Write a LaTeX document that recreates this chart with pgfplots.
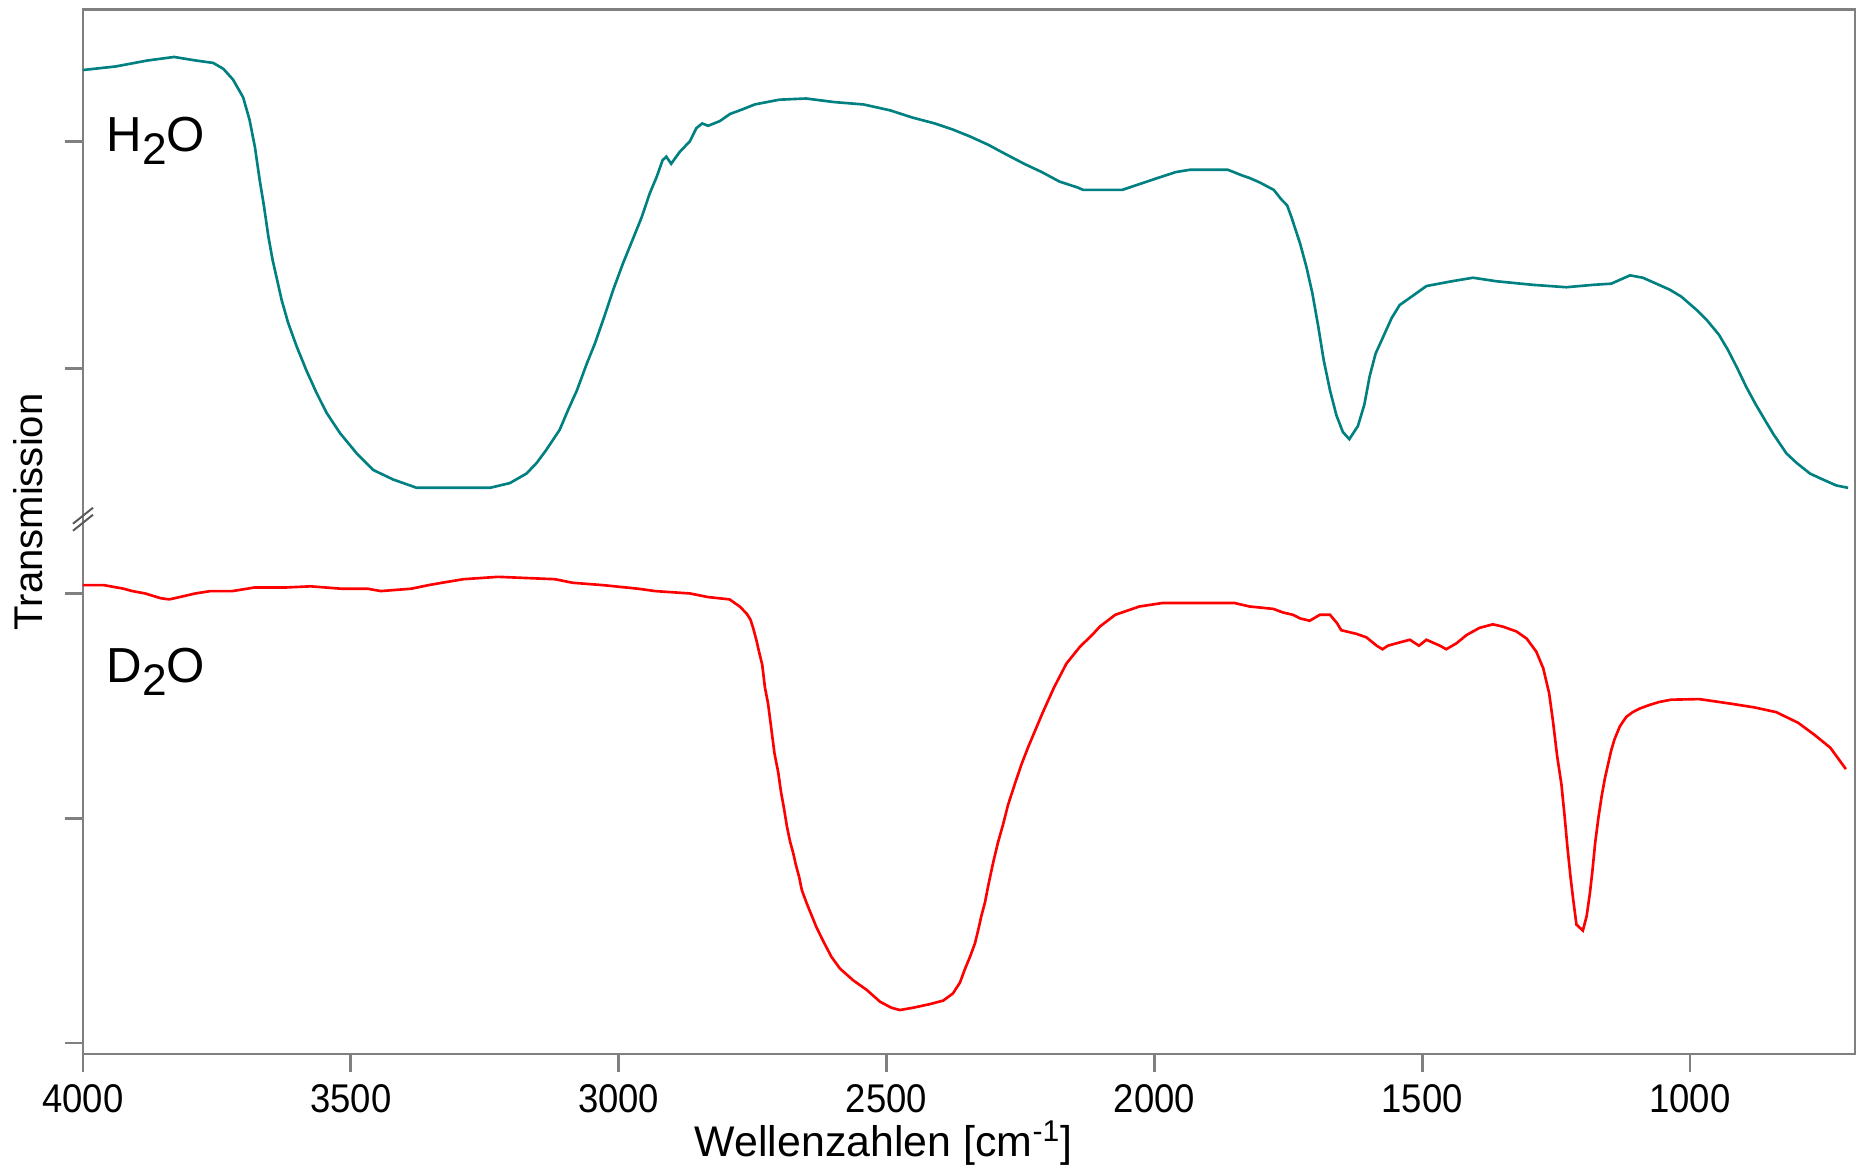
\documentclass[border=0pt]{standalone}
\usepackage{pgfplots}
\pgfplotsset{compat=1.18}
\usepackage{fontspec}
\setmainfont{Liberation Sans}
\newfontfamily\tickfont[FakeStretch=0.91]{Liberation Sans}
\definecolor{h2o}{HTML}{008080}
\definecolor{d2o}{HTML}{FF0000}
\definecolor{axgray}{HTML}{808080}

\begin{document}
\begin{tikzpicture}
\begin{axis}[
    scale only axis,
    width=177.2mm, height=104.45mm,
    xmin=692, xmax=4000, x dir=reverse,
    ymin=0, ymax=880,
    xtick={1000,1500,2000,2500,3000,3500,4000},
    ytick={9.2,198.4,388,577.2,768.5},
    yticklabels={},
    xtick pos=bottom, ytick pos=left,
    tick align=outside,
    major tick length=1.8mm,
    axis line style={draw=axgray, line width=0.8pt},
    tick style={draw=axgray, line width=0.8pt},
    xticklabel style={font=\tickfont\fontsize{11.4}{13}\selectfont,
        /pgf/number format/1000 sep={}, /pgf/number format/assume math mode=true},
    clip=false,
]
    % H2O spectrum
    \addplot[h2o, line width=0.75pt] coordinates {
        (4000,829) (3939,832) (3880,837) (3830,840) (3789,837) (3757,835)
        (3738,830) (3720,821) (3701,806) (3689,787) (3679,764) (3670,736)
        (3662,714) (3654,689) (3646,669) (3639,655) (3629,635) (3617,616)
        (3601,596) (3583,576) (3564,557) (3545,540) (3520,523) (3489,506)
        (3458,492) (3421,484) (3377,477) (3240,477) (3203,481) (3172,489)
        (3153,498) (3135,509) (3110,526) (3094,543) (3078,559) (3060,581)
        (3044,599) (3027,621) (3010,644) (2992,666) (2974,686) (2957,705)
        (2942,725) (2929,739) (2918,753) (2911,756) (2902,750) (2886,760)
        (2867,769) (2855,780) (2844,784) (2833,782) (2811,786) (2792,792)
        (2768,796) (2746,800) (2700,804) (2650,805) (2598,802) (2543,800)
        (2493,795) (2452,789) (2410,784) (2377,779) (2344,773) (2310,766)
        (2277,758) (2243,750) (2210,743) (2177,735) (2143,730) (2133,728)
        (2060,728) (2027,733) (1994,738) (1960,743) (1933,745) (1863,745)
        (1835,740) (1822,738) (1802,734) (1777,728) (1763,720) (1752,715)
        (1744,705) (1728,683) (1716,663) (1705,641) (1694,613) (1684,585)
        (1672,559) (1660,538) (1648,524) (1636,518) (1620,529) (1608,547)
        (1598,571) (1587,590) (1573,604) (1557,620) (1542,631) (1520,638)
        (1492,647) (1445,651) (1405,654) (1361,651) (1293,648) (1231,646)
        (1181,648) (1147,649) (1112,656) (1088,654) (1063,649) (1038,644)
        (1016,638) (988,627) (968,618) (946,606) (929,593) (912,578)
        (895,562) (877,547) (860,534) (844,522) (820,506) (801,498)
        (776,489) (752,484) (727,479) (705,477)
    };
    % D2O spectrum
    \addplot[d2o, line width=0.75pt] coordinates {
        (4000,395) (3961,395) (3924,392) (3908,390) (3884,388) (3855,384)
        (3839,383) (3819,385) (3790,388) (3762,390) (3721,390) (3680,393)
        (3623,393) (3575,394) (3518,392) (3469,392) (3444,390) (3387,392)
        (3355,395) (3330,397) (3290,400) (3225,402) (3119,400) (3086,397)
        (3029,395) (2964,392) (2932,390) (2867,388) (2834,385) (2793,383)
        (2774,377) (2761,371) (2754,366) (2749,359) (2743,349) (2738,339)
        (2732,328) (2727,309) (2721,295) (2715,274) (2709,253) (2702,237)
        (2697,221) (2691,206) (2686,192) (2680,179) (2674,169) (2669,159)
        (2663,149) (2658,138) (2649,127) (2640,117) (2631,107) (2618,95)
        (2603,82) (2587,72) (2562,62) (2537,54) (2512,44) (2491,39)
        (2475,37) (2450,39) (2419,42) (2394,45) (2376,51) (2363,60)
        (2354,71) (2344,82) (2335,93) (2329,104) (2323,116) (2316,128)
        (2310,142) (2301,161) (2292,178) (2282,194) (2273,210) (2260,228)
        (2248,244) (2236,258) (2223,272) (2208,288) (2198,298) (2187,309)
        (2164,329) (2139,343) (2114,354) (2102,360) (2073,370) (2028,377)
        (1984,380) (1851,380) (1822,377) (1778,375) (1760,372) (1741,370)
        (1728,367) (1710,365) (1691,370) (1672,370) (1659,363) (1651,357)
        (1623,354) (1604,351) (1585,344) (1574,341) (1564,344) (1548,346)
        (1523,349) (1506,344) (1492,349) (1467,344) (1455,341) (1436,346)
        (1417,353) (1393,359) (1368,362) (1349,360) (1324,356) (1305,350)
        (1287,339) (1274,325) (1263,304) (1256,281) (1248,251) (1240,227)
        (1234,200) (1229,175) (1223,149) (1218,130) (1212,109) (1200,104)
        (1193,116) (1187,135) (1182,155) (1177,178) (1171,199) (1165,217)
        (1159,232) (1153,244) (1147,256) (1141,265) (1131,276) (1119,284)
        (1107,288) (1094,291) (1076,294) (1058,296.5) (1035,298.5) (983,299)
        (922,295) (880,292) (839,288) (798,279) (768,269) (738,258) (709,240)
    };
    \node[anchor=base west, inner sep=0pt, font=\fontsize{14}{16}\selectfont]
        at (axis cs:3957,760) {H\raisebox{-0.26em}{\fontsize{12.6}{14}\selectfont 2}O};
    \node[anchor=base west, inner sep=0pt, font=\fontsize{14}{16}\selectfont]
        at (axis cs:3957,313) {D\raisebox{-0.26em}{\fontsize{12.6}{14}\selectfont 2}O};
    % axis break
    \draw[black!65, line width=0.55pt] ([shift={(-1.0mm,-1.1mm)}]axis cs:4000,456) -- ++(2.0mm,1.6mm);
    \draw[black!65, line width=0.55pt] ([shift={(-1.0mm,-1.8mm)}]axis cs:4000,456) -- ++(2.0mm,1.6mm);
    % labels
    \node[rotate=90, anchor=base, font=\fontsize{11.4}{13}\selectfont]
        at ([xshift=-4.0mm]rel axis cs:0,0.519) {Transmission};
    \node[anchor=base, font=\fontsize{12.2}{14}\selectfont]
        at ([yshift=-10.3mm]rel axis cs:0.452,0) {Wellenzahlen [cm\textsuperscript{-1}]};
    \coordinate (bl) at (rel axis cs:0,0);
    \coordinate (tr) at (rel axis cs:1,1);
\end{axis}
\pgfresetboundingbox
\path ([shift={(-8.3mm,-11.4mm)}]bl) rectangle ([shift={(0.6mm,0.95mm)}]tr);
\end{tikzpicture}
\end{document}
